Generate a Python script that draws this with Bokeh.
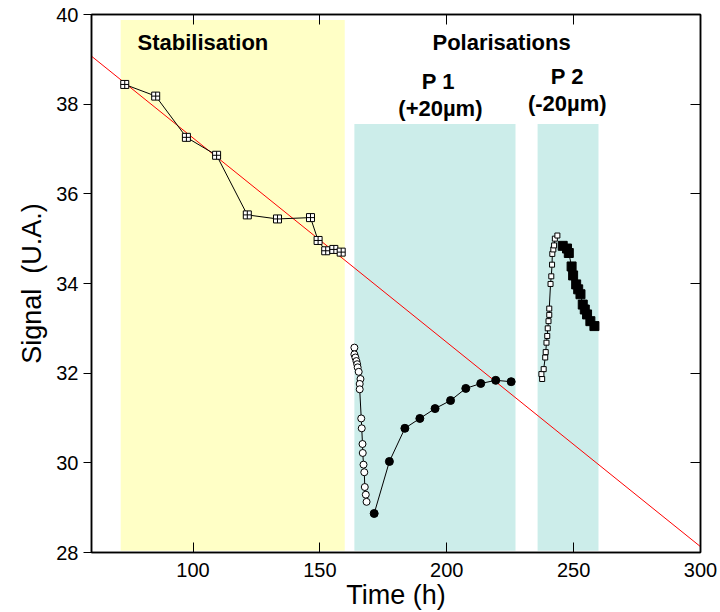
from bokeh.plotting import figure
from bokeh.models import ColumnDataSource, LinearAxis, FixedTicker, Range1d, CustomLabelingPolicy
from bokeh.core.properties import value
from bokeh.embed import file_html
from bokeh.resources import INLINE

# ---- data ----
stab_x = [73.1, 85.3, 97.4, 109.3, 121.4, 133.3, 146.3, 149.3, 152.3, 155.5, 158.4]
stab_y = [38.44, 38.18, 37.26, 36.86, 35.53, 35.44, 35.47, 34.96, 34.73, 34.76, 34.70]

p1_open_x = [163.6, 163.6, 164.0, 164.4, 164.7, 164.9, 165.3, 166.0, 165.7, 165.7,
             166.3, 166.5, 166.8, 166.9, 167.2, 167.5, 167.7, 168.1, 168.4]
p1_open_y = [32.57, 32.42, 32.35, 32.27, 32.20, 32.13, 32.03, 31.87, 31.76, 31.64,
             30.99, 30.77, 30.42, 30.22, 29.96, 29.79, 29.46, 29.29, 29.13]

p1_fill_x = [171.4, 177.4, 183.5, 189.4, 195.4, 201.5, 207.5, 213.4, 219.3, 225.4]
p1_fill_y = [28.87, 30.03, 30.77, 30.99, 31.21, 31.39, 31.66, 31.77, 31.84, 31.81]

p2_open_x = [237.6, 237.3, 238.2, 238.8, 239.0, 239.3, 239.6, 239.8, 240.1, 240.4,
             240.4, 240.9, 241.2, 241.5, 241.6, 242.0, 242.3, 242.6, 243.6]
p2_open_y = [31.87, 31.98, 32.09, 32.35, 32.47, 32.68, 32.83, 33.00, 33.16, 33.30,
             33.44, 33.99, 34.16, 34.42, 34.66, 34.76, 34.85, 35.00, 35.07]

p2_fill_x = [245.7, 247.4, 248.1, 249.2, 249.8, 251.0, 251.8, 252.7, 253.6, 254.4,
             255.3, 256.6, 258.2]
p2_fill_y = [34.84, 34.78, 34.68, 34.38, 34.18, 33.98, 33.87, 33.76, 33.53, 33.42,
             33.31, 33.16, 33.05]

trend_x = [60, 300]
trend_y = [39.07, 28.13]

region_left = [71.5, 163.6, 235.8]
region_right = [159.8, 227.1, 259.8]
region_bottom = [28.04, 28.04, 28.04]
region_top = [39.88, 37.56, 37.56]
region_color = ["#FFFFC6", "#CCEDEA", "#CCEDEA"]

label_text = ["Stabilisation", "Polarisations", "P 1", "(+20µm)", "P 2", "(-20µm)"]
label_x = [103.9, 221.6, 196.7, 197.5, 247.5, 247.5]
label_y = [39.38, 39.38, 38.50, 37.91, 38.61, 38.02]

x_ticks = [100, 150, 200, 250, 300]
y_ticks = [28, 30, 32, 34, 36, 38, 40]

FONT = "Liberation Sans"

p = figure(width=718, height=612, output_backend="svg", toolbar_location=None,
           x_range=Range1d(60, 300), y_range=Range1d(28, 40),
           min_border_left=91, min_border_right=18, min_border_top=14, min_border_bottom=58)
p.grid.visible = False
p.outline_line_color = "black"
p.outline_line_width = 1.5

# shaded regions
p.quad(left=region_left, right=region_right, bottom=region_bottom, top=region_top,
       fill_color=region_color, line_color=None)

# trend line
p.line(trend_x, trend_y, line_color="red", line_width=1)

# stabilisation
p.line(stab_x, stab_y, line_color="black", line_width=1)
p.scatter(stab_x, stab_y, marker="square_cross", size=8, fill_color="white",
          line_color="black", line_width=1)

# P1
p.line(p1_open_x, p1_open_y, line_color="black", line_width=1)
p.scatter(p1_open_x, p1_open_y, marker="circle", size=7, fill_color="white",
          line_color="black", line_width=1)
p.line(p1_fill_x, p1_fill_y, line_color="black", line_width=1)
p.scatter(p1_fill_x, p1_fill_y, marker="circle", size=8, fill_color="black",
          line_color="black")

# P2
p.line(p2_open_x, p2_open_y, line_color="black", line_width=1)
p.scatter(p2_open_x, p2_open_y, marker="square", size=5, fill_color="white",
          line_color="black", line_width=1)
p.line(p2_fill_x, p2_fill_y, line_color="black", line_width=1)
p.scatter(p2_fill_x, p2_fill_y, marker="square", size=9, fill_color="black",
          line_color="black")

# annotations
src = ColumnDataSource(dict(x=label_x, y=label_y, t=label_text))
p.text(x="x", y="y", text="t", source=src, text_align="center", text_baseline="middle",
       text_font=value(FONT), text_font_style="bold", text_font_size="22px",
       text_color="black")

# axes
for ax in (p.xaxis[0], p.yaxis[0]):
    ax.major_label_text_font = FONT
    ax.major_label_text_font_size = "20px"
    ax.major_label_text_color = "black"
    ax.axis_label_text_font = FONT
    ax.axis_label_text_font_size = "27px"
    ax.axis_label_text_font_style = "normal"
    ax.axis_label_text_color = "black"
    ax.axis_line_color = "black"
    ax.axis_line_width = 1.5
    ax.major_tick_line_color = "black"
    ax.major_tick_line_width = 1
    ax.minor_tick_line_color = None

p.xaxis[0].ticker = FixedTicker(ticks=x_ticks)
p.xaxis[0].axis_label = "Time (h)"
p.xaxis[0].major_tick_in = 10
p.xaxis[0].major_tick_out = 0
p.xaxis[0].major_label_standoff = 10
p.xaxis[0].axis_label_standoff = 0

p.yaxis[0].ticker = FixedTicker(ticks=y_ticks)
p.yaxis[0].axis_label = "Signal \u00a0(U.A.)"
p.yaxis[0].major_tick_in = 0
p.yaxis[0].major_tick_out = 8
p.yaxis[0].major_label_standoff = 5
p.yaxis[0].axis_label_standoff = 6

hide_labels = "for (const i of indices) indices.unset(i); return indices"

top = LinearAxis(ticker=FixedTicker(ticks=x_ticks[:-1]), major_label_text_font_size="1px",
                 major_label_policy=CustomLabelingPolicy(code=hide_labels),
                 major_tick_in=10, major_tick_out=0, minor_tick_line_color=None,
                 axis_line_color="black", axis_line_width=1.5, major_label_standoff=0)
p.add_layout(top, "above")
right = LinearAxis(ticker=FixedTicker(ticks=y_ticks[1:-1]), major_label_text_font_size="1px",
                   major_label_policy=CustomLabelingPolicy(code=hide_labels),
                   major_tick_in=10, major_tick_out=0, minor_tick_line_color=None,
                   axis_line_color="black", axis_line_width=1.5, major_label_standoff=0)
p.add_layout(right, "right")

open("out.html", "w").write(file_html(p, INLINE))
